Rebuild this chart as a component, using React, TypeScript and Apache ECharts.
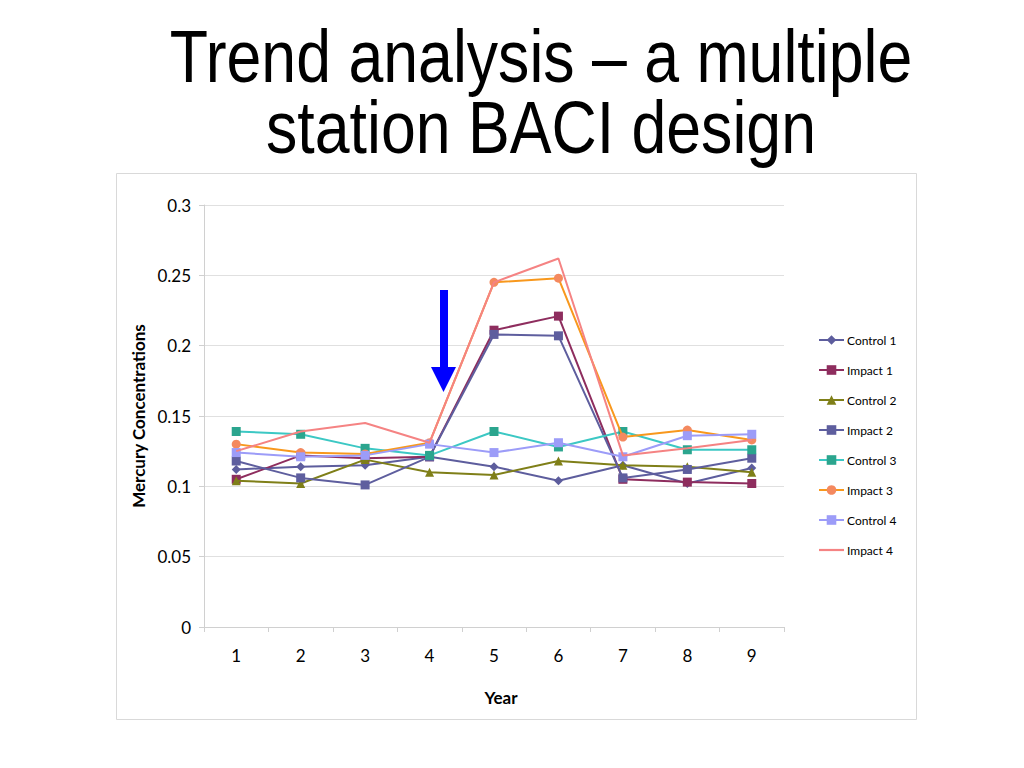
import React, { useEffect, useRef } from "react";
import * as echarts from "echarts";

const titleLines = ["Trend analysis – a multiple", "station BACI design"];
const years = ["1", "2", "3", "4", "5", "6", "7", "8", "9"];
const seriesNames = ["Control 1", "Impact 1", "Control 2", "Impact 2", "Control 3", "Impact 3", "Control 4", "Impact 4"];
const control1 = [0.112, 0.114, 0.115, 0.121, 0.114, 0.104, 0.115, 0.102, 0.113];
const impact1 = [0.105, 0.122, 0.120, 0.121, 0.211, 0.221, 0.105, 0.103, 0.102];
const control2 = [0.104, 0.102, 0.119, 0.110, 0.108, 0.118, 0.115, 0.114, 0.110];
const impact2 = [0.118, 0.106, 0.101, 0.121, 0.208, 0.207, 0.106, 0.112, 0.120];
const control3 = [0.139, 0.137, 0.127, 0.122, 0.139, 0.128, 0.139, 0.126, 0.126];
const impact3 = [0.130, 0.124, 0.123, 0.131, 0.245, 0.248, 0.135, 0.140, 0.133];
const control4 = [0.124, 0.121, 0.122, 0.130, 0.124, 0.131, 0.121, 0.136, 0.137];
const impact4 = [0.125, 0.139, 0.145, 0.131, 0.245, 0.262, 0.122, 0.127, 0.133];

const seriesData = [control1, impact1, control2, impact2, control3, impact3, control4, impact4];
const lineColors = ["#5D5D9D", "#8E2D5E", "#7F7F18", "#5E5E9E", "#3CC8C4", "#F8981D", "#9C9CF8", "#F58383"];
const markerColors = ["#5D5D9D", "#8E2D5E", "#7F7F18", "#5E5E9E", "#2BA58E", "#F4895F", "#9C9CF8", "#F58383"];
const symbols = ["diamond", "rect", "triangle", "rect", "rect", "circle", "rect", "none"];
const symbolSizes = [9, 9, 9, 9, 9, 9, 9, 0];

export default function App() {
  const ref = useRef<HTMLDivElement>(null);
  useEffect(() => {
    if (!ref.current) return;
    const chart = echarts.init(ref.current, null, { renderer: "svg" });
    const axisFont = "Lato";
    chart.setOption({
      animation: false,
      backgroundColor: "#ffffff",
      grid: { left: 204, top: 205, right: 240, bottom: 141, containLabel: false },
      legend: {
        orient: "vertical",
        left: 818,
        top: 334,
        padding: 0,
        itemWidth: 25,
        itemHeight: 12,
        itemGap: 18,
        textStyle: { fontFamily: axisFont, fontSize: 12, color: "#000", padding: [0, 0, 0, -2] },
        data: seriesNames.map((name, i) =>
          symbols[i] === "none" ? { name, icon: "path://M0,0 H25 V2.2 H0 Z" } : { name }
        ),
      },
      xAxis: {
        type: "category",
        data: years,
        boundaryGap: true,
        name: "Year",
        nameLocation: "middle",
        nameGap: 62,
        nameTextStyle: { fontFamily: axisFont, fontSize: 17, fontWeight: "bold", color: "#000", padding: [0, 0, 0, 14] },
        axisLine: { lineStyle: { color: "#D0D0D0" } },
        axisTick: { show: true, alignWithLabel: false, length: 5, lineStyle: { color: "#D0D0D0" } },
        axisLabel: { fontFamily: axisFont, fontSize: 17, color: "#000", margin: 20 },
        splitLine: { show: false },
      },
      yAxis: {
        type: "value",
        min: 0,
        max: 0.3,
        interval: 0.05,
        name: "Mercury Concentrations",
        nameLocation: "middle",
        nameGap: 56,
        nameTextStyle: { fontFamily: axisFont, fontSize: 17, fontWeight: "bold", color: "#000" },
        axisLine: { show: true, lineStyle: { color: "#D0D0D0" } },
        axisTick: { show: true, length: 5, lineStyle: { color: "#D0D0D0" } },
        axisLabel: { fontFamily: axisFont, fontSize: 17, color: "#000", margin: 13 },
        splitLine: { show: true, lineStyle: { color: "#E0E0E0" } },
      },
      series: seriesNames.map((name, i) => ({
        name,
        type: "line",
        data: seriesData[i],
        symbol: symbols[i],
        symbolSize: symbolSizes[i],
        showSymbol: symbols[i] !== "none",
        lineStyle: { color: lineColors[i], width: 2 },
        itemStyle: { color: markerColors[i] },
        z: 2 + i,
      })),
      graphic: [
        {
          type: "rect",
          shape: { x: 116.5, y: 173.5, width: 800, height: 546 },
          style: { fill: "none", stroke: "#D9D9D9", lineWidth: 1 },
          z: -1,
        },
        {
          type: "text",
          x: 541,
          y: 20,
          scaleX: 0.835,
          style: {
            text: titleLines.join("\n"),
            x: 0,
            y: 0,
            textAlign: "center",
            textVerticalAlign: "top",
            lineHeight: 71,
            font: '75px "Liberation Sans", Arial, sans-serif',
            fill: "#000",
          },
        },
        {
          type: "polygon",
          shape: {
            points: [
              [440, 290],
              [448, 290],
              [448, 367],
              [456, 367],
              [443.5, 392],
              [431, 367],
              [440, 367],
            ],
          },
          style: { fill: "#0000FF" },
          z: 100,
        },
      ],
    });
    return () => chart.dispose();
  }, []);
  return (
    <div
      ref={ref}
      style={{ position: "fixed", left: 0, top: 0, width: 1024, height: 768 }}
    />
  );
}
